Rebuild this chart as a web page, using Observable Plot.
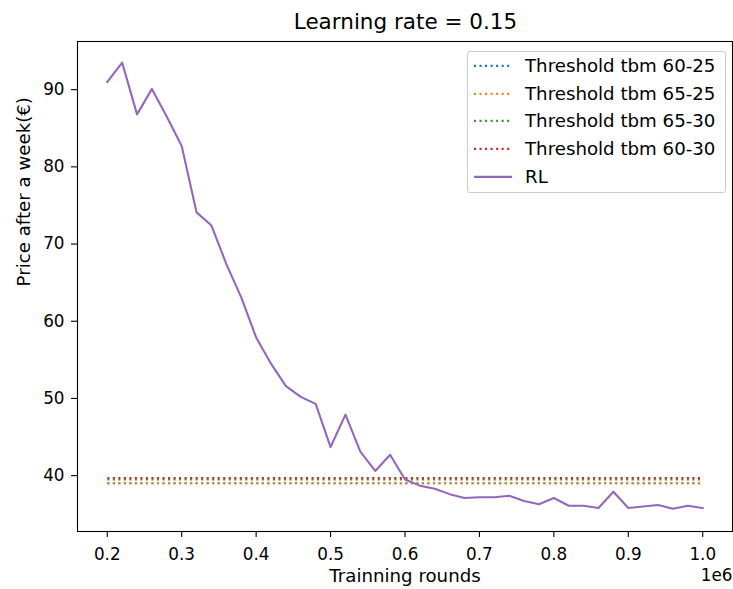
<!DOCTYPE html>
<html>
<head>
<meta charset="utf-8">
<script src="https://cdn.jsdelivr.net/npm/d3@7"></script>
<script src="https://cdn.jsdelivr.net/npm/@observablehq/plot@0.6"></script>
<style>
  html, body { margin: 0; padding: 0; background: white; }
  #wrap { position: relative; width: 733px; height: 589px; font-family: "DejaVu Sans", sans-serif; color: black; }
  #title { box-sizing: border-box; height: 32px; padding-top: 11px; padding-left: 78px; padding-right: 0px;
           font-size: 21.5px; line-height: 21.5px; text-align: center; white-space: nowrap; }
  #legend { position: absolute; left: 467px; top: 51px; width: 259px; height: 142px; box-sizing: border-box;
            border: 1px solid #cccccc; border-radius: 3px; background: rgba(255,255,255,0.8); }
  .row { position: absolute; left: 0; height: 27.7px; width: 100%; }
  .row svg { position: absolute; left: 5px; top: 0; }
  .row span { position: absolute; left: 57px; top: 0; line-height: 27.7px; font-size: 18.2px; white-space: nowrap; }
  svg { display: block; }
</style>
</head>
<body>
<div id="wrap">
  <div id="title">Learning rate = 0.15</div>
  <div id="chart"></div>
  <div id="legend"></div>
</div>
<script>
const titleText = "Learning rate = 0.15";
const xLabel = "Trainning rounds";
const yLabel = "Price after a week(€)";
const offsetText = "1e6";

const rounds = [200000, 220000, 240000, 260000, 280000, 300000, 320000, 340000, 360000, 380000,
                400000, 420000, 440000, 460000, 480000, 500000, 520000, 540000, 560000, 580000,
                600000, 620000, 640000, 660000, 680000, 700000, 720000, 740000, 760000, 780000,
                800000, 820000, 840000, 860000, 880000, 900000, 920000, 940000, 960000, 980000, 1000000];
const rlPrice = [91.0, 93.5, 86.8, 90.1, 86.5, 82.7, 74.1, 72.4, 67.4, 63.1,
                 57.9, 54.5, 51.6, 50.2, 49.3, 43.7, 47.9, 43.1, 40.6, 42.7,
                 39.5, 38.7, 38.3, 37.6, 37.1, 37.2, 37.2, 37.4, 36.7, 36.3,
                 37.1, 36.1, 36.1, 35.8, 37.9, 35.8, 36.0, 36.2, 35.7, 36.1, 35.8];

const thresholdNames = ["Threshold tbm 60-25", "Threshold tbm 65-25", "Threshold tbm 65-30", "Threshold tbm 60-30"];
const thresholdValues = [39.0, 39.0, 39.5, 39.7];
const thresholdColors = ["#1f77b4", "#ff7f0e", "#2ca02c", "#d62728"];
const rlName = "RL";
const rlColor = "#9467bd";

const xTicks = [200000, 300000, 400000, 500000, 600000, 700000, 800000, 900000, 1000000];
const yTicks = [40, 50, 60, 70, 80, 90];

const rlData = rounds.map((r, i) => ({round: r, price: rlPrice[i]}));
const xStart = rounds[0], xEnd = rounds[rounds.length - 1];
const thresholdData = thresholdNames.flatMap((name, i) => [
  {name, round: xStart, price: thresholdValues[i]},
  {name, round: xEnd, price: thresholdValues[i]}
]);

const lw = 2.08;
const dash = "2.08,3.44";

const chart = Plot.plot({
  width: 733,
  height: 557,
  marginTop: 9,
  marginBottom: 58,
  marginLeft: 77,
  marginRight: 1,
  style: {fontFamily: "DejaVu Sans, sans-serif", fontSize: "16.8px", color: "black", background: "white"},
  x: {domain: [160000, 1040000]},
  y: {domain: [32.76, 96.24]},
  marks: [
    ...thresholdNames.map((name, i) => Plot.line(thresholdData.filter(d => d.name === name), {
      x: "round", y: "price", stroke: thresholdColors[i], strokeWidth: lw, strokeDasharray: dash, strokeLinecap: "butt"
    })),
    Plot.line(rlData, {x: "round", y: "price", stroke: rlColor, strokeWidth: lw, strokeLinejoin: "round", strokeLinecap: "square"}),
    Plot.axisX({ticks: xTicks, tickFormat: d => (d / 1e6).toFixed(1), tickSize: 6, tickPadding: 10.5,
                fontSize: 16.8, strokeWidth: 1.1, label: null}),
    Plot.axisY({ticks: yTicks, tickFormat: d => String(d), tickSize: 6, tickPadding: 7,
                fontSize: 16.8, strokeWidth: 1.1, label: null}),
    Plot.frame({stroke: "black", strokeWidth: 1.1}),
    Plot.text([xLabel], {frameAnchor: "bottom", dy: 50, fontSize: 18.2, text: d => d}),
    Plot.text([offsetText], {frameAnchor: "bottom-right", textAnchor: "end", dy: 49.5, fontSize: 16.8, text: d => d}),
    Plot.text([yLabel], {frameAnchor: "left", rotate: -90, dx: -53, fontSize: 18.2, text: d => d})
  ]
});
document.getElementById("chart").appendChild(chart);
document.getElementById("title").textContent = titleText;

const legend = document.getElementById("legend");
const entries = thresholdNames.map((n, i) => ({name: n, color: thresholdColors[i], dashed: true}))
  .concat([{name: rlName, color: rlColor, dashed: false}]);
entries.forEach((e, i) => {
  const row = document.createElement("div");
  row.className = "row";
  row.style.top = (i * 27.7) + "px";
  const ns = "http://www.w3.org/2000/svg";
  const s = document.createElementNS(ns, "svg");
  s.setAttribute("width", "40");
  s.setAttribute("height", "27.7");
  const l = document.createElementNS(ns, "line");
  l.setAttribute("x1", "1"); l.setAttribute("x2", "39");
  l.setAttribute("y1", "13.85"); l.setAttribute("y2", "13.85");
  l.setAttribute("stroke", e.color);
  l.setAttribute("stroke-width", lw);
  if (e.dashed) l.setAttribute("stroke-dasharray", dash);
  s.appendChild(l);
  const t = document.createElement("span");
  t.textContent = e.name;
  row.appendChild(s);
  row.appendChild(t);
  legend.appendChild(row);
});
</script>
</body>
</html>
